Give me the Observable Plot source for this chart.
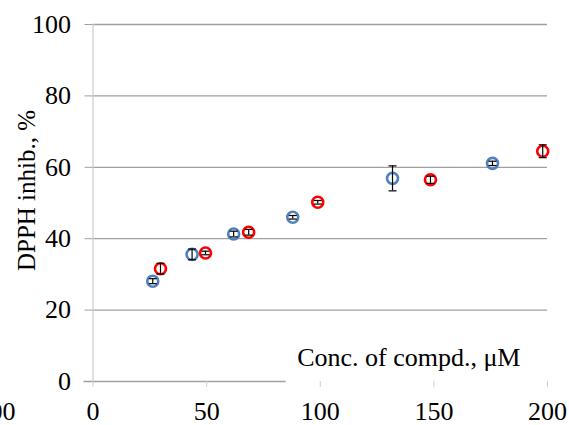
<!DOCTYPE html>
<html>
<head>
<meta charset="utf-8">
<script src="https://cdn.jsdelivr.net/npm/d3@7"></script>
<script src="https://cdn.jsdelivr.net/npm/@observablehq/plot@0.6"></script>
<style>
  html, body { margin: 0; padding: 0; background: #fff; }
  #chart svg { display: block; }
  #chart svg text { font-family: 'Liberation Serif', 'Times New Roman', serif; }
</style>
</head>
<body>
<div id="chart"></div>
<script>
// Data
const blueX   = [26.3, 43.6, 61.9, 87.9, 131.8, 175.8];
const blueY   = [28.1, 35.6, 41.3, 46.0, 56.9, 61.1];
const blueErr = [0.7, 1.5, 0.8, 0.5, 3.5, 0.6];

const redX   = [29.7, 49.5, 68.5, 98.9, 148.5, 197.9];
const redY   = [31.6, 36.0, 41.8, 50.2, 56.5, 64.5];
const redErr = [1.5, 0.5, 0.8, 0.5, 1.0, 1.8];

const xTicks = [0, 50, 100, 150, 200];
const yTicks = [0, 20, 40, 60, 80, 100];
const yGrid = [20, 40, 60, 80, 100];

const xLabel = "Conc. of compd., \u03BCM";
const yLabel = "DPPH inhib., %";
const leftCutLabel = "200";

const blue = blueX.map((x, i) => ({x, y: blueY[i], e: blueErr[i]}));
const red = redX.map((x, i) => ({x, y: redY[i], e: redErr[i]}));
const all = blue.concat(red);

const capSymbol = {
  draw(context, size) {
    const w = 4;
    context.moveTo(-w, 0);
    context.lineTo(w, 0);
  }
};

const FF = "'Liberation Serif', 'Times New Roman', serif";
const FS = 26;

const chart = Plot.plot({
  width: 569,
  height: 425,
  marginLeft: 92.5,
  marginRight: 22,
  marginTop: 24,
  marginBottom: 44,
  style: {fontFamily: FF, fontSize: "26px", color: "#000", background: "#fff"},
  x: {domain: [0, 200]},
  y: {domain: [0, 100]},
  marks: [
    Plot.gridY(yGrid, {stroke: "#a0a0a0", strokeOpacity: 1, strokeWidth: 1.3}),
    Plot.ruleY([0], {x1: -4, x2: 85, stroke: "#a0a0a0", strokeWidth: 1.3}),
    Plot.ruleX([0], {y1: 0, y2: 100, stroke: "#cfcfcf", strokeWidth: 1.3}),
    Plot.axisY({ticks: yTicks, tickSize: 8, tickPadding: 14, stroke: "#a0a0a0", label: null, fill: "#000", fontSize: FS, fontFamily: FF}),
    Plot.axisX({ticks: xTicks, tickSize: 6, tickPadding: 14, stroke: "#cfcfcf", label: null, fill: "#000", fontSize: FS, fontFamily: FF}),
    Plot.dot(blue, {x: "x", y: "y", r: 5.5, stroke: "#4f81bd", strokeWidth: 2.6, fill: "none"}),
    Plot.dot(red, {x: "x", y: "y", r: 5.5, stroke: "#ff0000", strokeWidth: 2.6, fill: "none"}),
    Plot.ruleX(all, {x: "x", y1: d => d.y - d.e, y2: d => d.y + d.e, stroke: "#000", strokeWidth: 1.2}),
    Plot.dot(all, {x: "x", y: d => d.y - d.e, symbol: capSymbol, stroke: "#000", strokeWidth: 1.2, fill: "none"}),
    Plot.dot(all, {x: "x", y: d => d.y + d.e, symbol: capSymbol, stroke: "#000", strokeWidth: 1.2, fill: "none"}),
    Plot.text([xLabel], {frameAnchor: "bottom-right", textAnchor: "end", lineAnchor: "middle", dx: -27, dy: -24.3, fill: "#000", fontSize: FS, fontFamily: FF}),
    Plot.text([yLabel], {frameAnchor: "left", rotate: -90, textAnchor: "middle", lineAnchor: "middle", dx: -66.5, dy: -12.5, fill: "#000", fontSize: 25, fontFamily: FF}),
    Plot.text([leftCutLabel], {frameAnchor: "bottom-left", textAnchor: "end", lineAnchor: "top", dx: -77.5, dy: 20, fill: "#000", fontSize: FS, fontFamily: FF})
  ]
});
document.getElementById("chart").appendChild(chart);
</script>
</body>
</html>
